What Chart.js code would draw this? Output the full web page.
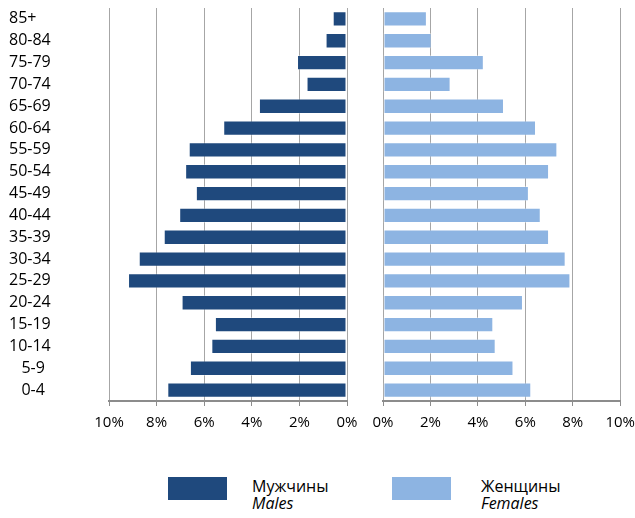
<!DOCTYPE html>
<html>
<head>
<meta charset="utf-8">
<script src="https://cdn.jsdelivr.net/npm/chart.js@4"></script>
<style>
  body { margin: 0; background: #fff; font-family: 'Open Sans', sans-serif; overflow: hidden; }
  #wrap { position: relative; width: 635px; height: 518px; overflow: hidden; }
  .box { position: absolute; }
  .legBox { position: absolute; width: 59px; height: 23px; }
  .legTxt { position: absolute; font-size: 16px; line-height: 17px; color: #000; }
  .legTxt i { font-style: italic; }
</style>
</head>
<body>
<div id="wrap">
  <div class="box" style="left:0;top:0;width:360px;height:440px;"><canvas id="males"></canvas></div>
  <div class="box" style="left:360px;top:0;width:283px;height:440px;"><canvas id="females"></canvas></div>

  <div class="legBox" style="left:168px;top:477px;background:#1f497d;"></div>
  <div class="legTxt" style="left:252px;top:478px;">Мужчины<br><i>Males</i></div>
  <div class="legBox" style="left:392px;top:477px;background:#8db4e2;"></div>
  <div class="legTxt" style="left:481px;top:478px;">Женщины<br><i>Females</i></div>
</div>
<script>
// Возрастные группы (сверху вниз)
const ageGroups = ['85+', '80-84', '75-79', '70-74', '65-69', '60-64', '55-59', '50-54', '45-49',
  '40-44', '35-39', '30-34', '25-29', '20-24', '15-19', '10-14', '5-9', '0-4'];

// Доля населения, %
const males = [0.6, 0.9, 2.1, 1.7, 3.7, 5.2, 6.65, 6.8, 6.35, 7.05, 7.7, 8.75, 9.2, 6.95, 5.55, 5.7, 6.6, 7.55];
const females = [1.85, 2.05, 4.25, 2.85, 5.1, 6.45, 7.35, 7.0, 6.15, 6.65, 7.0, 7.7, 7.9, 5.9, 4.65, 4.75, 5.5, 6.25];

const xTicks = [0, 2, 4, 6, 8, 10];

Chart.defaults.font.family = "'Open Sans', sans-serif";
Chart.defaults.font.size = 15;
Chart.defaults.color = '#000';

function xScale(reverse) {
  return {
    min: 0,
    max: 10,
    reverse: reverse,
    afterBuildTicks: s => { s.ticks = xTicks.map(v => ({ value: v })); },
    afterFit: s => { s.height = 39; },
    ticks: { callback: v => v + '%', padding: 8, maxRotation: 0, autoSkip: false },
    grid: { color: '#a6a6a6', lineWidth: 1, tickLength: 5, tickColor: '#8c8c8c' },
    border: { color: '#8c8c8c', width: 2 }
  };
}

function makeChart(id, values, color, isLeft) {
  return new Chart(document.getElementById(id), {
    type: 'bar',
    data: {
      labels: ageGroups,
      datasets: [{
        data: values,
        backgroundColor: color,
        borderColor: 'rgba(255,255,255,0.35)',
        borderWidth: 1,
        borderSkipped: false,
        barPercentage: 0.7,
        categoryPercentage: 1
      }]
    },
    options: {
      indexAxis: 'y',
      responsive: true,
      maintainAspectRatio: false,
      animation: false,
      layout: { padding: isLeft ? { left: 9, right: 13, top: 8, bottom: 0 } : { left: 23, right: 8, top: 8, bottom: 0 } },
      plugins: { legend: { display: false }, tooltip: { enabled: false } },
      scales: {
        x: xScale(isLeft),
        y: {
          display: isLeft,
          afterFit: s => { s.width = isLeft ? 100 : 0; },
          ticks: {
            font: { size: 16 },
            crossAlign: 'far',
            padding: -6,
            autoSkip: false,
            callback: function (v) {
              const l = this.getLabelForValue(v);
              return /^\d-/.test(l) ? '   ' + l : l;
            }
          },
          grid: { display: false },
          border: { display: false }
        }
      }
    }
  });
}

makeChart('males', males, '#1f497d', true);
makeChart('females', females, '#8db4e2', false);
</script>
</body>
</html>
